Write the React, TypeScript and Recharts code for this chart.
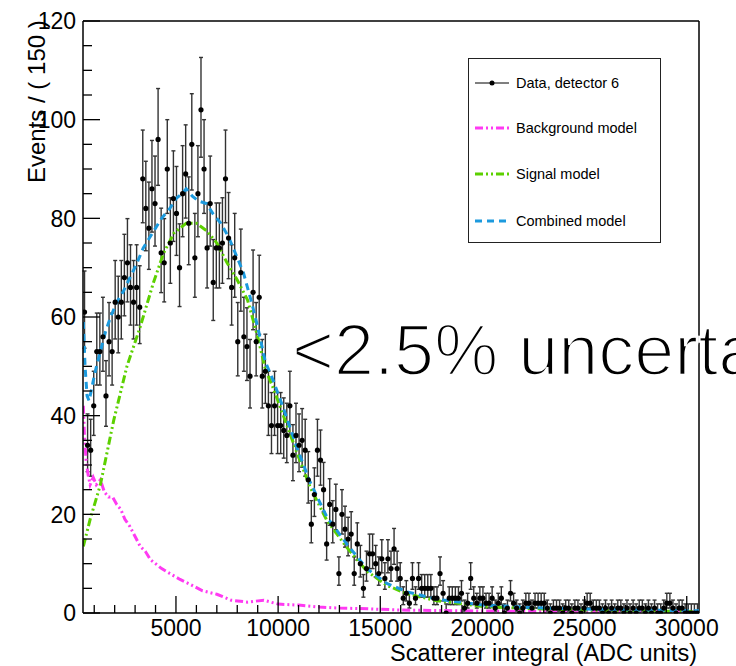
import React from "react";
import {
  ComposedChart,
  Scatter,
  Line,
  XAxis,
  YAxis,
  ErrorBar,
  ReferenceLine,
} from "recharts";

const X_MIN = 450;
const X_MAX = 30600;
const BIN_WIDTH = 150;

// events per 150-ADC bin, starting at X_MIN
const BIN_COUNTS = [
  61, 34, 33, 42, 53, 53, 56, 44, 55, 53,
  63, 60, 63, 68, 71, 66, 63, 66, 62, 88,
  82, 78, 86, 83, 96, 73, 71, 90, 75, 84,
  81, 70, 85, 89, 79, 95, 72, 85, 102, 90,
  74, 83, 67, 74, 74, 75, 88, 76, 66, 72,
  55, 69, 56, 54, 48, 65, 55, 64, 48, 49,
  42, 38, 42, 38, 38, 37, 36, 42, 32, 36,
  34, 35, 33, 27, 18, 24, 33, 31, 25, 14,
  22, 18, 21, 8, 20, 17, 15, 16, 8, 14,
  10, 5, 9, 12, 12, 10, 8, 11, 7, 11,
  9, 13, 9, 7, 3, 4, 2, 7, 3, 7,
  5, 5, 5, 5, 3, 3, 8, 4, 0, 3,
  3, 3, 3, 4, 1, 2, 7, 3, 2, 3,
  3, 2, 2, 3, 1, 2, 3, 0, 1, 4,
  2, 1, 0, 1, 2, 2, 1, 2, 2, 2,
  2, 1, 0, 1, 1, 1, 0, 1, 1, 0,
  1, 1, 0, 1, 2, 2, 1, 1, 1, 0,
  1, 0, 1, 0, 1, 1, 0, 1, 0, 1,
  0, 1, 1, 0, 1, 0, 1, 0, 0, 1,
  2, 2, 1, 0, 1, 1, 0, 0, 0, 0,
  0,
];

const BKG_X = [
  467, 520, 600, 700, 800, 950, 1100, 1300, 1500, 1700, 1900, 2100, 2300,
  2500, 2750, 3000, 3250, 3500, 3750, 4000, 4300, 4700, 5200, 5700, 6300,
  7000, 7700, 8500, 9300, 10000, 11000, 12000, 13000, 14000, 16000, 18000,
  20000, 24000, 30600,
];
const BKG_Y = [
  42, 36, 31, 28, 26, 27.5, 26, 27, 24.5, 23.5, 23.5, 22, 21, 19, 17.5, 15.5,
  13.5, 12.5, 10.8, 10, 9, 8, 6.8, 5.8, 4.5, 3.8, 2.6, 2.2, 2.6, 1.8, 1.6, 1.2,
  1.0, 0.9, 0.6, 0.5, 0.4, 0.3, 0.2,
];

const SIG_X = [
  467, 800, 1300, 1950, 2600, 3250, 3900, 4400, 4900, 5500, 6000, 6500, 7000,
  7500, 8000, 8500, 9000, 9370, 9770, 10260, 10920, 11570, 12380, 13360,
  14340, 15320, 16300, 17760, 20040, 23000, 26000, 30600,
];
const SIG_Y = [
  13.5, 19, 26, 39, 50, 58, 67, 73, 77, 79, 79, 77.5, 75, 71, 67.5, 63.5, 56,
  49.5, 45.5, 40, 32.5, 25.5, 18.8, 13.3, 8.5, 5.6, 3.9, 2.5, 1.3, 0.8, 0.5,
  0.3,
];

const COMB_X = [
  467, 550, 650, 750, 900, 1050, 1300, 1550, 1800, 2100, 2400, 2750, 3100,
  3400, 3700, 4000, 4300, 4700, 5000, 5300, 5500, 5800, 6100, 6500, 6800,
  7200, 7600, 8000, 8300, 8700, 9000, 9370, 9770, 10260, 10920, 11570, 12380,
  13360, 14340, 15320, 16300, 17760, 20040, 23000, 26000, 30600,
];
const COMB_Y = [
  59, 50, 44, 43, 46, 49, 53, 57, 60, 63, 65, 68, 71, 74, 76, 78, 80, 82, 84,
  85, 86, 84.5, 83.5, 83, 81, 79, 76, 72, 69, 63, 58, 51, 47, 41.5, 33.5,
  26.5, 19.5, 14, 9, 6, 4.3, 2.8, 1.6, 1.0, 0.7, 0.45,
];

const X_TICKS = [
  1000, 2000, 3000, 4000, 5000, 6000, 7000, 8000, 9000, 10000, 11000, 12000,
  13000, 14000, 15000, 16000, 17000, 18000, 19000, 20000, 21000, 22000, 23000,
  24000, 25000, 26000, 27000, 28000, 29000, 30000,
];
const Y_TICKS = [
  0, 5, 10, 15, 20, 25, 30, 35, 40, 45, 50, 55, 60, 65, 70, 75, 80, 85, 90,
  95, 100, 105, 110, 115, 120,
];

const FONT = '"Liberation Sans", Arial, Helvetica, sans-serif';
const C_BKG = "#ff3af2";
const C_SIG = "#5cd000";
const C_COMB = "#1c9ade";
const DASH_DOT = "8 3 2 3 2 3";
const DASH = "7 5";

const points = BIN_COUNTS.map((n, i) => {
  const r = Math.sqrt(n + 0.25);
  return {
    x: X_MIN + BIN_WIDTH * (i + 0.5),
    y: n,
    err: n === 0 ? [0, 1.84] : [r - 0.5, r + 0.5],
  };
});
const toXY = (xs: number[], ys: number[]) => xs.map((x, i) => ({ x, y: ys[i] }));
const bkg = toXY(BKG_X, BKG_Y);
const sig = toXY(SIG_X, SIG_Y);
const comb = toXY(COMB_X, COMB_Y);

const YTick = (props: any) => {
  const { x, y, payload } = props;
  const v = payload.value;
  const major = v % 20 === 0;
  return (
    <g>
      <line x1={x} x2={x + (major ? 17 : 9)} y1={y} y2={y} stroke="#000" strokeWidth={1.3} />
      {major && (
        <text x={x - 7} y={y} dy="0.36em" textAnchor="end" fontSize={23} fontFamily={FONT} fill="#000">
          {v}
        </text>
      )}
    </g>
  );
};

const XTick = (props: any) => {
  const { x, y, payload } = props;
  const v = payload.value;
  const major = v % 5000 === 0;
  return (
    <g>
      <line x1={x} x2={x} y1={y} y2={y - (major ? 17 : 8)} stroke="#000" strokeWidth={1.3} />
      {major && (
        <text x={x} y={y + 23} textAnchor="middle" fontSize={23} fontFamily={FONT} fill="#000">
          {v}
        </text>
      )}
    </g>
  );
};

const Dot = (p: any) => <circle cx={p.cx} cy={p.cy} r={2.6} fill="#000" />;

function LegendBox() {
  const rows = [
    { y: 83, label: "Data, detector 6" },
    { y: 128, label: "Background model", color: C_BKG, dash: DASH_DOT },
    { y: 174, label: "Signal model", color: C_SIG, dash: DASH_DOT },
    { y: 221, label: "Combined model", color: C_COMB, dash: DASH },
  ];
  return (
    <g>
      <rect x={468.5} y={58.5} width={192} height={184} fill="#fff" stroke="#222" strokeWidth={1} />
      {rows.map((r) => (
        <g key={r.label}>
          {r.color ? (
            <line x1={475} x2={509} y1={r.y} y2={r.y} stroke={r.color} strokeWidth={3} strokeDasharray={r.dash} />
          ) : (
            <g>
              <line x1={475} x2={509} y1={r.y} y2={r.y} stroke="#000" strokeWidth={1} />
              <circle cx={492} cy={r.y} r={2.5} fill="#000" />
            </g>
          )}
          <text x={516} y={r.y} dy="0.35em" fontSize={14.5} fontFamily={FONT} fill="#000">
            {r.label}
          </text>
        </g>
      ))}
    </g>
  );
}

export default function App() {
  return (
    <div
      style={{
        position: "absolute",
        left: 0,
        top: 0,
        width: 736,
        height: 666,
        overflow: "hidden",
        background: "#fff",
      }}
    >
      <ComposedChart
        width={736}
        height={666}
        margin={{ top: 21, right: 37, bottom: 0, left: 0 }}
      >
        <XAxis
          type="number"
          dataKey="x"
          domain={[X_MIN, X_MAX]}
          allowDataOverflow
          ticks={X_TICKS}
          interval={0}
          height={53}
          tickSize={0}
          tickMargin={0}
          tickLine={false}
          tick={<XTick />}
          axisLine={{ stroke: "#000", strokeWidth: 1.5 }}
          label={{
            content: () => (
              <text x={697} y={661} textAnchor="end" fontSize={23.5} fontFamily={FONT} fill="#000">
                Scatterer integral (ADC units)
              </text>
            ),
          }}
        />
        <YAxis
          type="number"
          domain={[0, 120]}
          allowDataOverflow
          ticks={Y_TICKS}
          interval={0}
          width={83}
          tickSize={0}
          tickMargin={0}
          tickLine={false}
          tick={<YTick />}
          axisLine={{ stroke: "#000", strokeWidth: 1.5 }}
          label={{
            content: () => (
              <text
                x={45}
                y={183}
                transform="rotate(-90 45 183)"
                fontSize={24}
                fontFamily={FONT}
                fill="#000"
              >
                Events / ( 150 )
              </text>
            ),
          }}
        />
        <ReferenceLine y={120} stroke="#000" strokeWidth={1.5} />
        <ReferenceLine x={X_MAX} stroke="#000" strokeWidth={1.5} />
        <Scatter data={points} dataKey="y" shape={Dot} isAnimationActive={false}>
          <ErrorBar dataKey="err" direction="y" width={2} stroke="#333" strokeWidth={1.4} />
        </Scatter>
        <Line
          data={bkg}
          dataKey="y"
          type="linear"
          dot={false}
          stroke={C_BKG}
          strokeWidth={3}
          strokeDasharray={DASH_DOT}
          isAnimationActive={false}
        />
        <Line
          data={sig}
          dataKey="y"
          type="linear"
          dot={false}
          stroke={C_SIG}
          strokeWidth={3}
          strokeDasharray={DASH_DOT}
          isAnimationActive={false}
        />
        <Line
          data={comb}
          dataKey="y"
          type="linear"
          dot={false}
          stroke={C_COMB}
          strokeWidth={3}
          strokeDasharray={DASH}
          isAnimationActive={false}
        />
      </ComposedChart>
      <svg
        width={736}
        height={666}
        style={{ position: "absolute", left: 0, top: 0, pointerEvents: "none" }}
      >
        <LegendBox />
        <text
          x={292}
          y={375}
          fontSize={72}
          fontFamily={FONT}
          fill="#000"
          stroke="#fff"
          strokeWidth={2.4}
        >
          {"<2.5% uncertainty"}
        </text>
      </svg>
    </div>
  );
}
